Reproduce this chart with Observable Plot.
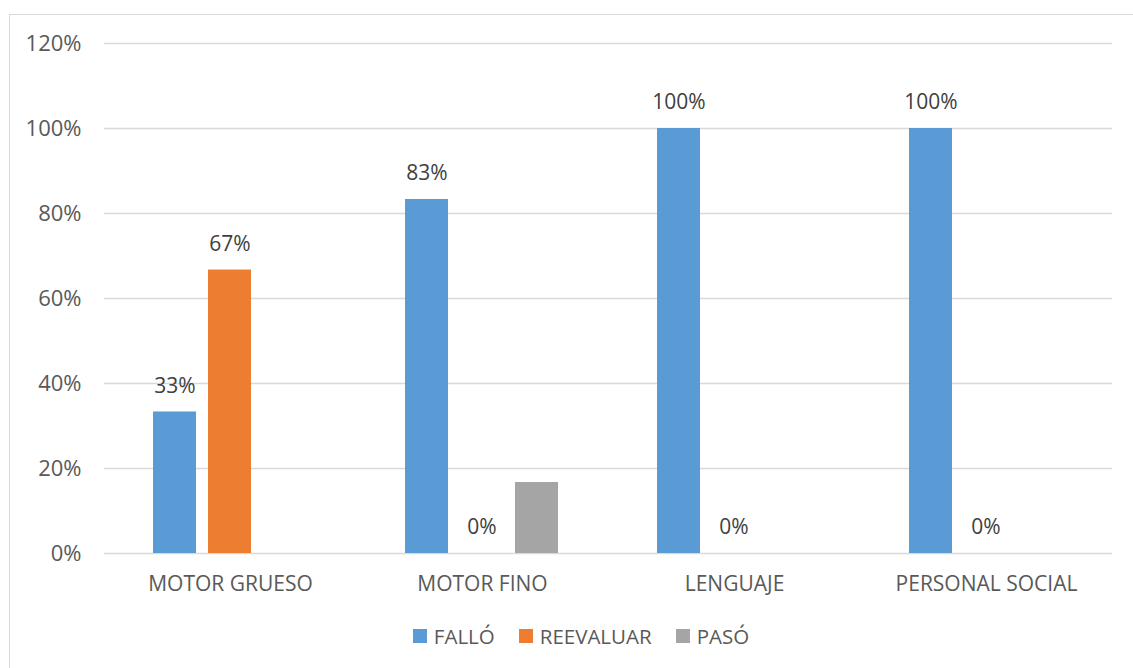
<!DOCTYPE html>
<html>
<head>
<meta charset="utf-8">
<script src="https://cdn.jsdelivr.net/npm/d3@7"></script>
<script src="https://cdn.jsdelivr.net/npm/@observablehq/plot@0.6"></script>
<style>
  html, body { margin: 0; padding: 0; background: #fff; overflow: hidden; }
  body { width: 1133px; height: 668px; position: relative; font-family: "Open Sans", sans-serif; }
  #frame { position: absolute; left: 9px; top: 14px; width: 1144px; height: 700px; border: 1px solid #d9d9d9; box-sizing: border-box; }
  #chart { position: absolute; left: 0; top: 0; }
  #legend { position: absolute; left: 9px; width: 1144px; top: 624px; height: 24px; display: flex; justify-content: center; align-items: center; font-size: 20.5px; color: #595959; }
  .item { display: flex; align-items: center; margin: 0 12px; }
  .sw { width: 14px; height: 14px; margin-right: 7px; }
</style>
</head>
<body>
<div id="frame"></div>
<div id="chart"></div>
<div id="legend"></div>
<script>
const categories = ["MOTOR GRUESO", "MOTOR FINO", "LENGUAJE", "PERSONAL SOCIAL"];
const series = ["FALLÓ", "REEVALUAR", "PASÓ"];
const fallo = [0.333, 0.833, 1.0, 1.0];
const reevaluar = [0.667, 0, 0, 0];
const paso = [null, 0.167, null, null];
const colors = ["#5b9bd5", "#ed7d31", "#a5a5a5"];
const yTicks = [0, 0.2, 0.4, 0.6, 0.8, 1.0, 1.2];
const labeledSeries = ["FALLÓ", "REEVALUAR"];

const seriesValues = [fallo, reevaluar, paso];
const data = [];
categories.forEach((c, i) => {
  series.forEach((s, j) => {
    const v = seriesValues[j][i];
    if (v != null) data.push({category: c, series: s, value: v});
  });
});

const chart = Plot.plot({
  width: 1133,
  height: 600,
  marginLeft: 103,
  marginRight: 20,
  marginTop: 43,
  marginBottom: 47,
  style: {fontFamily: "Open Sans, sans-serif", fontSize: "22px", color: "#595959", background: "transparent"},
  fx: {domain: categories, padding: 0, label: null},
  x: {domain: series, paddingInner: 0.214, paddingOuter: 0.86, axis: null},
  y: {domain: [0, 1.2], label: null},
  color: {domain: series, range: colors},
  marks: [
    Plot.gridY(yTicks, {stroke: "#d9d9d9", strokeOpacity: 1, strokeWidth: 1.3}),
    Plot.axisY(yTicks, {tickSize: 0, tickPadding: 23, tickFormat: d => Math.round(d * 100) + "%", label: null, fill: "#595959", fontSize: 22}),
    Plot.axisFx({anchor: "bottom", tickSize: 0, tickPadding: 22.5, label: null, fill: "#595959", fontSize: 21}),
    Plot.barY(data, {fx: "category", x: "series", y: "value", fill: "series"}),
    Plot.text(data.filter(d => labeledSeries.includes(d.series)), {
      fx: "category", x: "series", y: "value",
      text: d => Math.round(d.value * 100) + "%",
      dy: -26, fill: "#404040", fontSize: 21
    })
  ]
});
document.getElementById("chart").appendChild(chart);

const legend = document.getElementById("legend");
series.forEach((s, i) => {
  const it = document.createElement("div");
  it.className = "item";
  const sw = document.createElement("div");
  sw.className = "sw";
  sw.style.background = colors[i];
  const tx = document.createElement("span");
  tx.textContent = s;
  it.appendChild(sw);
  it.appendChild(tx);
  legend.appendChild(it);
});
</script>
</body>
</html>
